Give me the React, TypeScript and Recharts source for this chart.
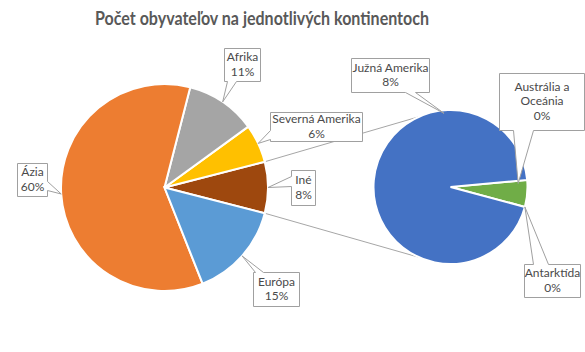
import React from "react";
import { PieChart, Pie, Cell, Customized } from "recharts";

// podiely v % zo svetovej populácie
const mainCategories = ["Severná Amerika", "Afrika", "Ázia", "Európa"];
const mainShares = [6, 11, 60, 15];
const otherCategories = ["Antarktída", "Austrália a Oceánia", "Južná Amerika"];
const otherShares = [0, 0.45, 7.55];
const otherName = "Iné";

const COLORS: Record<string, string> = {
  "Iné": "#9E480E",
  "Severná Amerika": "#FFC000",
  "Afrika": "#A5A5A5",
  "Ázia": "#ED7D31",
  "Európa": "#5B9BD5",
  "Antarktída": "#264478",
  "Austrália a Oceánia": "#70AD47",
  "Južná Amerika": "#4472C4",
};

const MAIN = { cx: 164.5, cy: 187.5, r: 103.5 };
const SUB = { cx: 450.5, cy: 187, r: 77 };
const SUB_START = -15;
const CONNECT_ANGLE = 114;

type Side = "left" | "right" | "top" | "bottom";
interface Box {
  x: number;
  y: number;
  w: number;
  h: number;
  side: Side;
  b0: number;
  b1: number;
  angle?: number;
  rf?: number;
  wrap?: boolean;
}

// umiestnenie popisiek (výrezy s odkazom)
const BOXES: Record<string, Box> = {
  "Afrika": { x: 224, y: 48, w: 36, h: 33, side: "bottom", b0: 227, b1: 236 },
  "Severná Amerika": { x: 270, y: 112, w: 92, h: 29, side: "left", b0: 130, b1: 139 },
  "Iné": { x: 291, y: 170, w: 24, h: 35, side: "left", b0: 176, b1: 186 },
  "Európa": { x: 253, y: 272, w: 46, h: 34, side: "top", b0: 255, b1: 263 },
  "Ázia": { x: 17, y: 163, w: 30, h: 33, side: "right", b0: 181, b1: 190 },
  "Južná Amerika": { x: 351, y: 58, w: 78, h: 34, side: "bottom", b0: 405, b1: 415, angle: 95, rf: 0.96 },
  "Austrália a Oceánia": { x: 499, y: 73, w: 85, h: 57, side: "bottom", b0: 513, b1: 533, angle: 3, rf: 0.88, wrap: true },
  "Antarktída": { x: 524, y: 264, w: 56, h: 33, side: "top", b0: 533, b1: 548 },
};

const otherTotal = otherShares.reduce((a, b) => a + b, 0);
const mainData = [
  { name: otherName, value: otherTotal },
  ...mainCategories.map((name, i) => ({ name, value: mainShares[i] })),
];
const subData = otherCategories.map((name, i) => ({ name, value: otherShares[i] }));
const mainStart = -((otherTotal / 100) * 360) / 2;

const RAD = Math.PI / 180;
const polar = (cx: number, cy: number, r: number, a: number) => ({
  x: cx + r * Math.cos(a * RAD),
  y: cy - r * Math.sin(a * RAD),
});

function calloutPath(b: Box, tx: number, ty: number) {
  const x = b.x + 0.5;
  const y = b.y + 0.5;
  const r = x + b.w;
  const btm = y + b.h;
  const b0 = b.b0 + 0.5;
  const b1 = b.b1 + 0.5;
  switch (b.side) {
    case "bottom":
      return `M${x},${y}H${r}V${btm}H${b1}L${tx},${ty}L${b0},${btm}H${x}Z`;
    case "top":
      return `M${x},${y}H${b0}L${tx},${ty}L${b1},${y}H${r}V${btm}H${x}Z`;
    case "left":
      return `M${x},${y}H${r}V${btm}H${x}V${b1}L${tx},${ty}L${x},${b0}Z`;
    default:
      return `M${x},${y}H${r}V${b0}L${tx},${ty}L${r},${b1}V${btm}H${x}Z`;
  }
}

const renderLabel = (props: any) => {
  const { cx, cy, outerRadius, midAngle, name, value } = props;
  const b = BOXES[name];
  if (!b) return null;
  const t = polar(cx, cy, outerRadius * (b.rf ?? 1), b.angle ?? midAngle);
  let lines: string[] = [name];
  if (b.wrap) {
    const k = name.lastIndexOf(" ");
    lines = [name.slice(0, k), name.slice(k + 1)];
  }
  lines.push(`${Math.round(value)}%`);
  const lh = 14.5;
  const top = b.y + b.h / 2 - (lines.length * lh) / 2;
  return (
    <g key={name}>
      <path d={calloutPath(b, t.x, t.y)} fill="#fff" stroke="#A0A0A0" strokeWidth={1} />
      <text
        x={b.x + b.w / 2 + 0.5}
        textAnchor="middle"
        fontFamily="Lato, 'Open Sans', sans-serif"
        fontSize={12}
        fill="#4A4A4A"
      >
        {lines.map((s, i) => (
          <tspan key={i} x={b.x + b.w / 2 + 0.5} y={top + lh * (i + 1) - 3.5}>
            {s}
          </tspan>
        ))}
      </text>
    </g>
  );
};

const Connectors = () => {
  const halfOther = ((otherTotal / 100) * 360) / 2;
  const a1 = polar(MAIN.cx, MAIN.cy, MAIN.r, halfOther);
  const a2 = polar(MAIN.cx, MAIN.cy, MAIN.r, -halfOther);
  const b1 = polar(SUB.cx, SUB.cy, SUB.r, CONNECT_ANGLE);
  const b2 = polar(SUB.cx, SUB.cy, SUB.r, -CONNECT_ANGLE);
  return (
    <g>
      <line x1={a1.x} y1={a1.y} x2={b1.x} y2={b1.y} stroke="#A6A6A6" strokeWidth={1} />
      <line x1={a2.x} y1={a2.y} x2={b2.x} y2={b2.y} stroke="#A6A6A6" strokeWidth={1} />
    </g>
  );
};

export default function App() {
  return (
    <div style={{ width: 585, height: 352, background: "#fff" }}>
      <style>{"body{margin:0}"}</style>
      <PieChart width={585} height={352} margin={{ top: 0, right: 0, bottom: 0, left: 0 }}>
        <text
          x={262}
          y={25}
          textAnchor="middle"
          fontFamily="Lato, 'Open Sans', sans-serif"
          fontWeight="bold"
          fontSize={18}
          fill="#595959"
          textLength={334}
          lengthAdjust="spacingAndGlyphs"
        >
          Počet obyvateľov na jednotlivých kontinentoch
        </text>
        <Customized component={Connectors} />
        <Pie
          data={mainData}
          dataKey="value"
          nameKey="name"
          cx={MAIN.cx}
          cy={MAIN.cy}
          outerRadius={MAIN.r}
          startAngle={mainStart}
          endAngle={mainStart + 360}
          stroke="#fff"
          strokeWidth={2}
          label={renderLabel}
          labelLine={false}
          isAnimationActive={false}
        >
          {mainData.map((d) => (
            <Cell key={d.name} fill={COLORS[d.name]} />
          ))}
        </Pie>
        <Pie
          data={subData}
          dataKey="value"
          nameKey="name"
          cx={SUB.cx}
          cy={SUB.cy}
          outerRadius={SUB.r}
          startAngle={SUB_START}
          endAngle={SUB_START + 360}
          stroke="#fff"
          strokeWidth={2}
          label={renderLabel}
          labelLine={false}
          isAnimationActive={false}
        >
          {subData.map((d) => (
            <Cell key={d.name} fill={COLORS[d.name]} />
          ))}
        </Pie>
      </PieChart>
    </div>
  );
}
